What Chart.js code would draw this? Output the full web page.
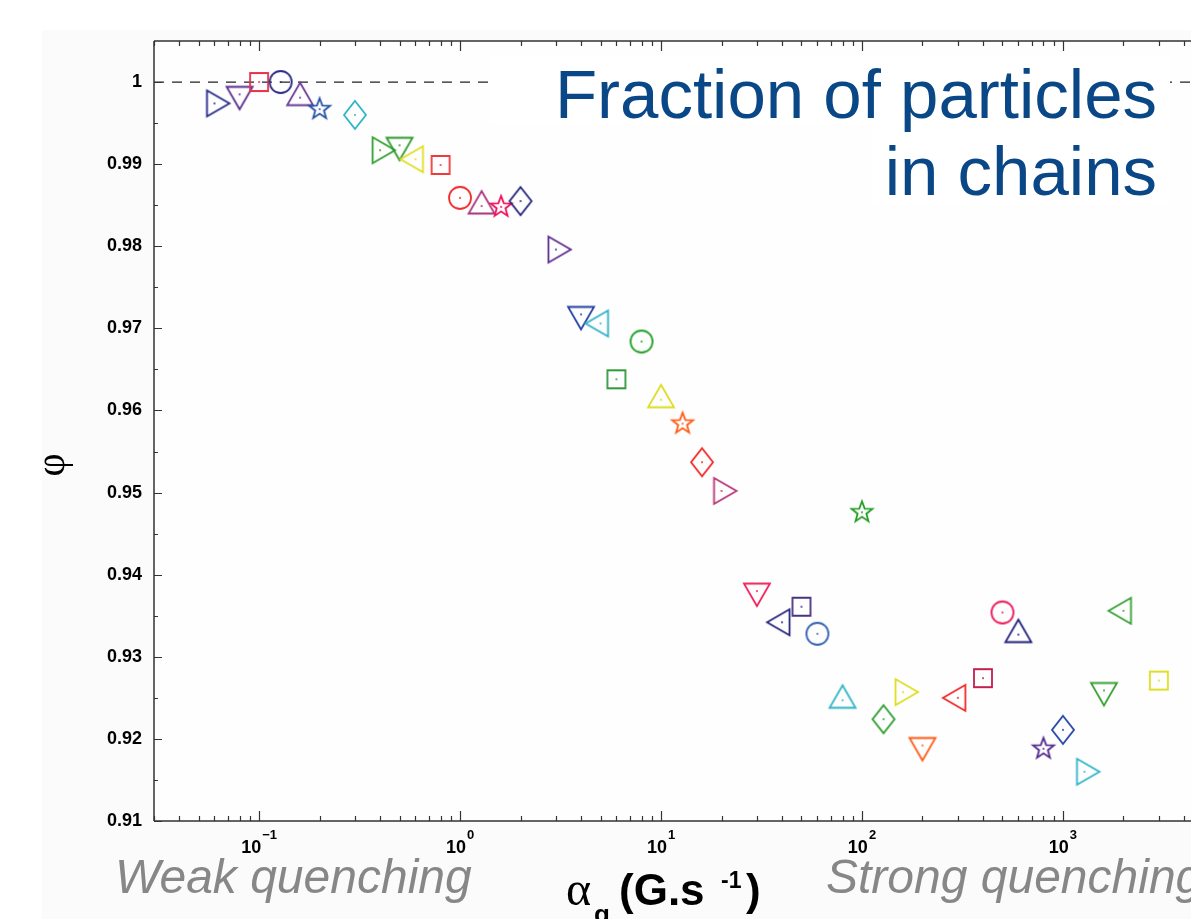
<!DOCTYPE html>
<html>
<head>
<meta charset="utf-8">
<script src="https://cdn.jsdelivr.net/npm/chart.js@4/dist/chart.umd.min.js"></script>
<style>
html,body{margin:0;padding:0;overflow:hidden;background:#fff;width:1191px;height:919px;}
#c{position:absolute;left:0;top:0;}
</style>
</head>
<body>
<canvas id="c" width="1200" height="919"></canvas>
<script>
// ---- data ----
const alphaValues = [0.06, 0.08, 0.1, 0.128, 0.16, 0.2, 0.3, 0.4, 0.5, 0.6, 0.8, 1, 1.28, 1.6, 2, 3, 4, 5, 6, 8, 10, 12.8, 16, 20, 30, 40, 50, 60, 80, 100, 128, 160, 200, 300, 400, 500, 600, 800, 1000, 1280, 1600, 2000, 3000];
const phiValues = [0.9974, 0.9985, 1.0000, 1.0000, 0.9981, 0.9967, 0.9960, 0.9917, 0.9923, 0.9906, 0.9899, 0.9859, 0.9849, 0.9848, 0.9855, 0.9796, 0.9717, 0.9706, 0.9638, 0.9684, 0.9613, 0.9584, 0.9537, 0.9502, 0.9380, 0.9342, 0.9361, 0.9328, 0.9247, 0.9476, 0.9224, 0.9257, 0.9192, 0.9250, 0.9274, 0.9354, 0.9327, 0.9188, 0.9211, 0.9160, 0.9259, 0.9356, 0.9271];
const refLineX = [0.03, 4540];
const refLineY = [1, 1];
const yTickValues = [0.91, 0.92, 0.93, 0.94, 0.95, 0.96, 0.97, 0.98, 0.99, 1.0];
const yMinorTickValues = [0.915, 0.925, 0.935, 0.945, 0.955, 0.965, 0.975, 0.985, 0.995];
const xDecadeExponents = [-1, 0, 1, 2, 3];
const xTickLabels = ['10', '10', '10', '10', '10'];
const xTickExponents = ['\u22121', '0', '1', '2', '3'];

// ---- marker styles (kept apart from the values) ----
const markerShapes = ['right','down','square','circle','up','star','diamond','right','down','left','square','circle','up','star','diamond','right','down','left','square','circle','up','star','diamond','right','down','left','square','circle','up','star','diamond','right','down','left','square','circle','up','star','diamond','right','down','left','square'];
const markerColors = ['#27278a','#5b2c8f','#e8304a','#2b2b85','#6b3a98','#2452a8','#2fb4c8','#2f9f2f','#2e9a2e','#dede22','#ef3a3a','#f02a2a','#a8357e','#f0105a','#24247e','#5e2f8e','#2240a0','#2fb0c6','#2f9a3a','#22a22a','#dcdc20','#ff5a14','#f02828','#b83578','#f0205a','#26267e','#4a3282','#3464b2','#30b4c8','#22a022','#2c9c2c','#dede22','#ff5a14','#f02828','#c22050','#ee1a5a','#22227c','#50288e','#2446a8','#30b4c8','#34a034','#34a034','#dede22'];

function makeMarker(shape, color) {
  const c = document.createElement('canvas');
  c.width = 40; c.height = 40;
  const g = c.getContext('2d');
  g.translate(20, 20);
  g.strokeStyle = color; g.fillStyle = color; g.lineWidth = 1.8; g.lineJoin = 'miter';
  g.beginPath();
  const tri = (deg) => {
    const R = 15;
    for (let k = 0; k < 3; k++) {
      const a = (deg + k * 120) * Math.PI / 180;
      const px = R * Math.cos(a), py = R * Math.sin(a);
      if (k === 0) g.moveTo(px, py); else g.lineTo(px, py);
    }
    g.closePath();
  };
  if (shape === 'up') tri(-90);
  else if (shape === 'down') tri(90);
  else if (shape === 'right') tri(0);
  else if (shape === 'left') tri(180);
  else if (shape === 'square') g.rect(-9, -9, 18, 18);
  else if (shape === 'circle') g.arc(0, 0, 11, 0, Math.PI * 2);
  else if (shape === 'diamond') { g.moveTo(0, -14); g.lineTo(11, 0); g.lineTo(0, 14); g.lineTo(-11, 0); g.closePath(); }
  else if (shape === 'star') {
    for (let k = 0; k < 10; k++) {
      const r = k % 2 === 0 ? 11 : 4.6;
      const a = (-90 + k * 36) * Math.PI / 180;
      const px = r * Math.cos(a), py = r * Math.sin(a);
      if (k === 0) g.moveTo(px, py); else g.lineTo(px, py);
    }
    g.closePath();
  }
  g.stroke();
  g.beginPath(); g.arc(0, 0, 1, 0, Math.PI * 2); g.fill();
  return c;
}

const pointData = alphaValues.map((x, i) => ({x: x, y: phiValues[i]}));
const refData = refLineX.map((x, i) => ({x: x, y: refLineY[i]}));
const markerImages = markerShapes.map((s, i) => makeMarker(s, markerColors[i]));

const AXIS_COLOR = '#333333';
const SANS = '"Liberation Sans", Arial, sans-serif';
const SERIF = '"Liberation Serif", "DejaVu Serif", serif';

const decor = {
  id: 'decor',
  beforeDraw(chart) {
    const ctx = chart.ctx;
    ctx.save();
    ctx.fillStyle = '#ffffff';
    ctx.fillRect(0, 0, chart.width, chart.height);
    ctx.fillStyle = '#fbfbfb';
    ctx.fillRect(42, 30, chart.width - 42, chart.height - 30);
    const a = chart.chartArea;
    ctx.fillStyle = '#fefefe';
    ctx.fillRect(a.left, a.top, a.right - a.left, a.bottom - a.top);
    ctx.restore();
  },
  afterDatasetsDraw(chart) {
    const ctx = chart.ctx;
    const a = chart.chartArea;
    const xs = chart.scales.x, ys = chart.scales.y;
    ctx.save();
    // axes frame
    ctx.strokeStyle = AXIS_COLOR;
    ctx.lineWidth = 1.5;
    ctx.beginPath();
    ctx.moveTo(a.left, a.top); ctx.lineTo(a.right, a.top);
    ctx.moveTo(a.left, a.top); ctx.lineTo(a.left, a.bottom);
    ctx.moveTo(a.left, a.bottom); ctx.lineTo(a.right, a.bottom);
    ctx.stroke();
    // ticks
    ctx.lineWidth = 1.2;
    ctx.beginPath();
    yTickValues.forEach(v => { const p = Math.round(ys.getPixelForValue(v)) + 0.5; ctx.moveTo(a.left, p); ctx.lineTo(a.left + 8, p); });
    yMinorTickValues.forEach(v => { const p = Math.round(ys.getPixelForValue(v)) + 0.5; ctx.moveTo(a.left, p); ctx.lineTo(a.left + 4, p); });
    for (let e = -2; e <= 4; e++) {
      for (let m = 1; m <= 9; m++) {
        const v = m * Math.pow(10, e);
        if (v < xs.min || v > xs.max) continue;
        const p = Math.round(xs.getPixelForValue(v)) + 0.5;
        const len = m === 1 ? 10 : 5;
        ctx.moveTo(p, a.bottom); ctx.lineTo(p, a.bottom - len);
        ctx.moveTo(p, a.top); ctx.lineTo(p, a.top + len);
      }
    }
    ctx.stroke();
    // x tick labels with superscripts
    ctx.fillStyle = '#000000';
    ctx.textBaseline = 'alphabetic';
    ctx.textAlign = 'left';
    xDecadeExponents.forEach((e, i) => {
      const p = xs.getPixelForValue(Math.pow(10, e));
      ctx.font = 'bold 18px ' + SANS;
      const w1 = ctx.measureText(xTickLabels[i]).width;
      ctx.font = 'bold 13px ' + SANS;
      const w2 = ctx.measureText(xTickExponents[i]).width;
      const x0 = p - (w1 + w2 + 1) / 2;
      ctx.font = 'bold 18px ' + SANS;
      ctx.fillText(xTickLabels[i], x0, 853);
      ctx.font = 'bold 13px ' + SANS;
      ctx.fillText(xTickExponents[i], x0 + w1 + 1, 839);
    });
    // title box + title
    ctx.fillStyle = '#ffffff';
    ctx.fillRect(490, 57, 680, 68);
    ctx.fillRect(872, 125, 298, 80);
    ctx.fillStyle = '#0a4787';
    ctx.font = '69px ' + SANS;
    ctx.textAlign = 'right';
    ctx.fillText('Fraction of particles', 1157, 118);
    ctx.fillText('in chains', 1157, 195);
    // quenching labels
    ctx.fillStyle = '#878787';
    ctx.font = 'italic 48px ' + SANS;
    ctx.textAlign = 'left';
    ctx.fillText('Weak quenching', 115, 893);
    ctx.fillText('Strong quenching', 826, 893);
    // x axis title: alpha_q (G.s^-1)
    ctx.fillStyle = '#000000';
    ctx.font = '48px ' + SERIF;
    ctx.fillText('\u03b1', 566, 905);
    ctx.font = 'bold 26px ' + SANS;
    ctx.fillText('q', 594, 923);
    ctx.font = 'bold 44px ' + SANS;
    ctx.fillText('(G.s', 619, 905);
    ctx.font = 'bold 23px ' + SANS;
    ctx.fillText('-1', 721, 888);
    ctx.font = 'bold 44px ' + SANS;
    ctx.fillText(')', 746, 905);
    // y axis title phi (rotated)
    ctx.translate(64, 465);
    ctx.rotate(-Math.PI / 2);
    ctx.textAlign = 'center';
    ctx.font = '40px ' + SERIF;
    ctx.fillText('\u03c6', 0, 0);
    ctx.restore();
  }
};

new Chart(document.getElementById('c'), {
  type: 'scatter',
  data: {
    datasets: [
      {
        label: 'phi',
        data: pointData,
        pointStyle: markerImages,
        pointRadius: 12,
        pointHoverRadius: 12,
        order: 1
      },
      {
        label: 'ref',
        data: refData,
        showLine: true,
        pointRadius: 0,
        borderColor: '#222222',
        borderWidth: 1.3,
        borderDash: [10, 8],
        order: 2
      }
    ]
  },
  options: {
    responsive: false,
    animation: false,
    devicePixelRatio: 1,
    layout: { autoPadding: false, padding: { top: 41, right: 5, left: 0, bottom: 0 } },
    plugins: { legend: { display: false }, tooltip: { enabled: false }, title: { display: false } },
    events: [],
    scales: {
      x: {
        type: 'logarithmic',
        position: 'bottom',
        min: 0.03,
        max: 4540,
        grid: { display: false, drawTicks: false },
        border: { display: false },
        ticks: { display: false },
        afterFit: (s) => { s.height = 98; }
      },
      y: {
        type: 'linear',
        position: 'left',
        min: 0.91,
        max: 1.005,
        grid: { display: false, drawTicks: false },
        border: { display: false },
        afterBuildTicks: (s) => { s.ticks = yTickValues.map(v => ({ value: v })); },
        ticks: {
          padding: 12,
          color: '#000000',
          font: { family: '"Liberation Sans", Arial, sans-serif', size: 18, weight: 'bold' },
          callback: (v) => (Math.abs(v - 1) < 1e-9 ? '1' : Number(v).toFixed(2))
        },
        afterFit: (s) => { s.width = 154; }
      }
    }
  },
  plugins: [decor]
});
</script>
</body>
</html>
